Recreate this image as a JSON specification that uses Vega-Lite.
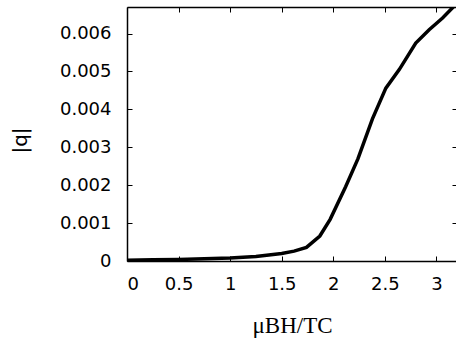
{
  "$schema": "https://vega.github.io/schema/vega-lite/v6.json",
  "autosize": {"type": "none"},
  "padding": {"left": 127, "top": 7, "right": 0, "bottom": 82},
  "width": 330,
  "height": 254,
  "background": "white",
  "config": {
    "view": {"stroke": null},
    "axis": {
      "grid": false,
      "domainColor": "black",
      "domainWidth": 1.5,
      "tickColor": "black",
      "tickWidth": 1,
      "tickSize": -5,
      "labelFont": "DejaVu Sans",
      "labelFontSize": 18,
      "labelColor": "black",
      "titleColor": "black",
      "titleFontWeight": "normal"
    }
  },
  "data": {
    "values": [
      {"h": 0.0, "q": 0.00002},
      {"h": 0.25, "q": 0.00003},
      {"h": 0.5, "q": 0.00004},
      {"h": 0.75, "q": 0.00006},
      {"h": 1.0, "q": 0.00008},
      {"h": 1.25, "q": 0.00012},
      {"h": 1.5, "q": 0.0002},
      {"h": 1.62, "q": 0.00026},
      {"h": 1.74, "q": 0.00036},
      {"h": 1.87, "q": 0.00066},
      {"h": 1.97, "q": 0.0011},
      {"h": 2.12, "q": 0.00196},
      {"h": 2.24, "q": 0.0027},
      {"h": 2.38, "q": 0.00375},
      {"h": 2.51, "q": 0.00456},
      {"h": 2.64, "q": 0.00505},
      {"h": 2.8, "q": 0.00575},
      {"h": 2.93, "q": 0.0061},
      {"h": 3.06, "q": 0.00641},
      {"h": 3.2, "q": 0.0068}
    ]
  },
  "resolve": {"axis": {"x": "independent", "y": "independent"}},
  "layer": [
    {
      "mark": {"type": "line", "color": "black", "strokeWidth": 3.5, "clip": true},
      "encoding": {
        "x": {
          "field": "h", "type": "quantitative",
          "scale": {"domain": [0, 3.2], "nice": false, "zero": false},
          "axis": {
            "values": [0, 0.5, 1, 1.5, 2, 2.5, 3],
            "labelPadding": 19,
            "format": "~g",
            "title": "μBH/TC",
            "titleFont": "Liberation Serif",
            "titleFontSize": 23,
            "titlePadding": 21
          }
        },
        "y": {
          "field": "q", "type": "quantitative",
          "scale": {"domain": [0, 0.0067], "nice": false},
          "axis": {
            "values": [0, 0.001, 0.002, 0.003, 0.004, 0.005, 0.006],
            "format": "~g",
            "labelPadding": 21,
            "title": "|q|",
            "titleFont": "DejaVu Sans",
            "titleFontSize": 20,
            "titleX": -107,
            "titleY": 133,
            "titleAlign": "center",
            "titleBaseline": "middle",
            "titleAngle": -90
          }
        }
      }
    },
    {
      "mark": {"type": "line", "opacity": 0},
      "encoding": {
        "x": {
          "field": "h", "type": "quantitative",
          "axis": {"orient": "top", "values": [0, 0.5, 1, 1.5, 2, 2.5, 3], "labels": false, "title": null}
        },
        "y": {
          "field": "q", "type": "quantitative",
          "axis": {"orient": "right", "values": [0, 0.001, 0.002, 0.003, 0.004, 0.005, 0.006], "labels": false, "title": null}
        }
      }
    }
  ]
}
